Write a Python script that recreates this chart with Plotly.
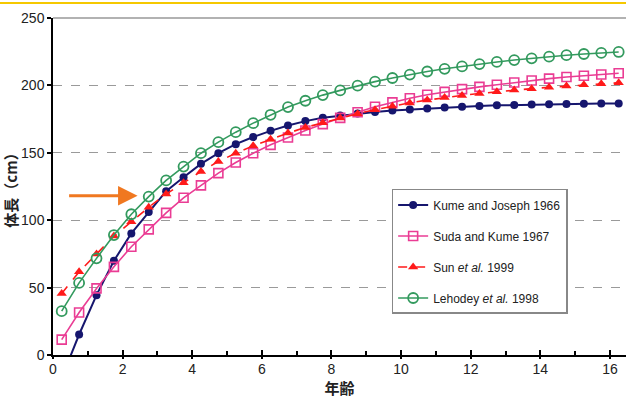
import plotly.graph_objects as go

ages = [0.25, 0.75, 1.25, 1.75, 2.25, 2.75, 3.25, 3.75, 4.25, 4.75, 5.25, 5.75,
        6.25, 6.75, 7.25, 7.75, 8.25, 8.75, 9.25, 9.75, 10.25, 10.75, 11.25, 11.75,
        12.25, 12.75, 13.25, 13.75, 14.25, 14.75, 15.25, 15.75, 16.25]

kume_joseph_1966 = [-17, 15.2, 44.4, 69.9, 90.2, 106.1, 121.5, 131.8, 141.8, 149.7, 156.4, 161.7,
                    166.3, 170.2, 173.5, 176.0, 177.6, 179.2, 180.3, 181.3, 182.1, 182.9, 183.6, 184.2,
                    184.8, 185.2, 185.5, 185.8, 186.0, 186.2, 186.4, 186.5, 186.6]

suda_kume_1967 = [11.4, 31.5, 49.4, 65.4, 80.3, 93.2, 105.4, 116.6, 125.8, 134.9, 142.8, 149.7,
                  155.9, 161.4, 166.5, 171.3, 175.9, 180.1, 184.2, 187.4, 190.5, 193.1, 195.2, 197.2,
                  198.9, 200.5, 202.1, 203.6, 205.0, 206.2, 207.2, 208.1, 209.0]

sun_1999 = [45.6, 61.7, 74.9, 88.2, 98.9, 109.6, 119.4, 127.7, 136.1, 143.5, 149.7, 155.2,
            160.1, 164.6, 168.8, 172.3, 175.8, 179.0, 182.0, 184.6, 187.0, 189.1, 191.0, 192.6,
            194.0, 195.3, 196.5, 197.6, 198.6, 199.5, 200.4, 201.2, 201.9]

lehodey_1998 = [32.5, 53.5, 71.7, 89.0, 104.4, 117.5, 129.5, 139.8, 149.7, 157.9, 165.3, 172.0,
                178.2, 183.9, 188.6, 192.8, 196.3, 199.8, 202.8, 205.5, 208.0, 210.3, 212.3, 214.1,
                215.8, 217.4, 218.8, 220.1, 221.3, 222.4, 223.3, 224.1, 224.8]

x_ticks = [0, 2, 4, 6, 8, 10, 12, 14, 16]
y_ticks = [0, 50, 100, 150, 200, 250]
x_range = [0, 16.46]
y_range = [0, 250]

# arrow (data units)
arrow_tail = (0.42, 118.2)
arrow_head = (2.43, 118.2)

FONT = "Arial, 'Liberation Sans', sans-serif"
CJK = "'Noto Sans CJK JP', sans-serif"

fig = go.Figure()

fig.add_trace(go.Scatter(
    x=ages, y=kume_joseph_1966, name="Kume and Joseph 1966", legendgroup="a",
    mode="lines+markers", line=dict(color="#16166e", width=2),
    marker=dict(symbol="circle", size=8, color="#16166e"),
))
fig.add_trace(go.Scatter(
    x=ages, y=suda_kume_1967, name="Suda and Kume 1967", legendgroup="b",
    mode="lines+markers", line=dict(color="#ea3c94", width=1.6),
    marker=dict(symbol="square-open", size=9, color="#ea3c94", line=dict(width=1.6)),
))
fig.add_trace(go.Scatter(
    x=ages, y=sun_1999, name="Sun <i>et al.</i> 1999", legendgroup="c",
    mode="lines+markers", line=dict(color="#ff1a1a", width=1.6, dash="dash"),
    marker=dict(symbol="triangle-up", size=9, color="#ff1a1a"),
))
fig.add_trace(go.Scatter(
    x=ages, y=lehodey_1998, name="Lehodey <i>et al.</i> 1998", legendgroup="d",
    mode="lines+markers", line=dict(color="#339a5e", width=1.6),
    marker=dict(symbol="circle-open", size=10, color="#339a5e", line=dict(width=1.8)),
))
fig.add_trace(go.Scatter(x=[], y=[], xaxis="x2", showlegend=False))

fig.update_layout(
    width=626, height=401,
    margin=dict(l=53, r=0, t=18, b=46),
    paper_bgcolor="white", plot_bgcolor="white",
    font=dict(family=FONT, size=14, color="#222"),
    showlegend=True,
    legend=dict(
        x=0.591, y=0.4926, xanchor="left", yanchor="top",
        bgcolor="white", bordercolor="#888", borderwidth=1.5,
        font=dict(family=FONT, size=12, color="#222"),
        tracegroupgap=12, itemwidth=30,
    ),
    xaxis=dict(
        range=x_range, tickvals=x_ticks, ticks="inside", ticklen=5, tickwidth=1.5,
        tickcolor="black", showline=True, linecolor="black", linewidth=1.5,
        showgrid=False, zeroline=False, automargin=False,
        minor=dict(dtick=1, ticks="inside", ticklen=4, tickwidth=1.5, tickcolor="black", showgrid=False),
        tickfont=dict(size=14, color="#222"),
        title=dict(text="<b>年齢</b>", font=dict(family=CJK, size=15, color="#222"), standoff=2),
    ),
    xaxis2=dict(
        range=x_range, overlaying="x", anchor="y", side="bottom", automargin=False,
        tickvals=x_ticks, ticks="outside", ticklen=3, tickwidth=1.5, tickcolor="black",
        showticklabels=False, showline=False, showgrid=False, zeroline=False,
    ),
    yaxis=dict(
        range=y_range, tickvals=y_ticks, ticks="outside", ticklen=4, tickwidth=1.5,
        tickcolor="black", showline=True, linecolor="black", linewidth=1.5,
        showgrid=True, gridcolor="#9a9a9a", griddash="dash", gridwidth=1.2,
        zeroline=False, automargin=False, tickfont=dict(size=14, color="#222"),
        title=dict(text="<b>体長（cm）</b>", font=dict(family=CJK, size=15, color="#222"), standoff=6),
    ),
    shapes=[
        dict(type="line", xref="paper", yref="paper", x0=0, x1=1, y0=1, y1=1,
             line=dict(color="#999999", width=1.5)),
        dict(type="line", xref="paper", yref="paper", x0=-0.1, x1=1.0, y0=1.0445, y1=1.0445,
             line=dict(color="#f5c800", width=2)),
    ],
    annotations=[
        dict(x=arrow_head[0], y=arrow_head[1], ax=arrow_tail[0], ay=arrow_tail[1],
             xref="x", yref="y", axref="x", ayref="y", text="", showarrow=True,
             arrowhead=2, arrowsize=1.3, arrowwidth=3, arrowcolor="#f07820"),
    ],
)

fig.write_html("out.html", config={"displayModeBar": False},
               post_script="document.body.style.margin='0';")
